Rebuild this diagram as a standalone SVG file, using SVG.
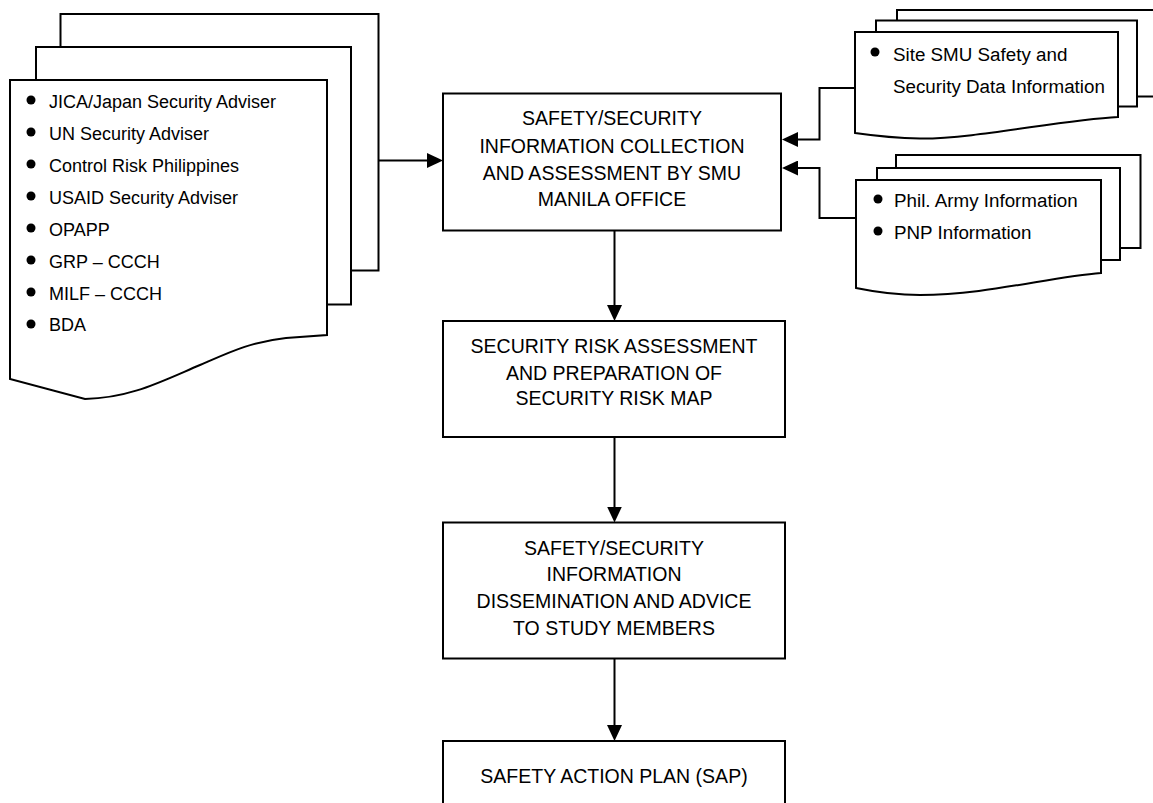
<svg xmlns="http://www.w3.org/2000/svg" width="1153" height="803" viewBox="0 0 1153 803">
<style>
.pg{fill:#fff;stroke:#000;stroke-width:2;stroke-linejoin:miter}
.bx{fill:#fff;stroke:#000;stroke-width:2}
.ln{fill:none;stroke:#000;stroke-width:2}
.lt{font-family:"Liberation Sans",Arial,sans-serif;font-size:18px;fill:#000}
.rt{font-family:"Liberation Sans",Arial,sans-serif;font-size:18.8px;fill:#000}
.bt{font-family:"Liberation Sans",Arial,sans-serif;font-size:19.5px;fill:#000;text-anchor:middle}
.dot{fill:#000}
</style>
<defs>
<marker id="ah" markerWidth="16" markerHeight="15" refX="12" refY="7.5" orient="auto" markerUnits="userSpaceOnUse">
<path d="M0,0 L16,7.5 L0,15 Z" fill="#000"/>
</marker>
</defs>
<rect width="1153" height="803" fill="#fff"/>

<g id="sources-left">
<rect class="pg" x="60.5" y="14" width="318" height="256.5"/>
<rect class="pg" x="36" y="47" width="315" height="257.5"/>
<path class="pg" d="M10,80 H327 V335 L286,338 C250,342 230,352 200,365 C160,382 130,398 85,399 L10,379 Z"/>
<circle class="dot" cx="31" cy="100" r="4.5"/>
<circle class="dot" cx="31" cy="132" r="4.5"/>
<circle class="dot" cx="31" cy="164" r="4.5"/>
<circle class="dot" cx="31" cy="196" r="4.5"/>
<circle class="dot" cx="31" cy="228" r="4.5"/>
<circle class="dot" cx="31" cy="260" r="4.5"/>
<circle class="dot" cx="31" cy="292" r="4.5"/>
<circle class="dot" cx="31" cy="324" r="4.5"/>
<text class="lt" x="49" y="108">JICA/Japan Security Adviser</text>
<text class="lt" x="49" y="140">UN Security Adviser</text>
<text class="lt" x="49" y="172">Control Risk Philippines</text>
<text class="lt" x="49" y="204">USAID Security Adviser</text>
<text class="lt" x="49" y="235.5">OPAPP</text>
<text class="lt" x="49" y="267.5">GRP – CCCH</text>
<text class="lt" x="49" y="299.5">MILF – CCCH</text>
<text class="lt" x="49" y="331">BDA</text>
</g>

<g id="sources-site">
<rect class="pg" x="897" y="10" width="300" height="86.5"/>
<rect class="pg" x="876" y="20.5" width="261" height="86"/>
<path class="pg" d="M855,32 H1118 V117 C1060,120 975,139 920,138.5 Q890,138 855,133 Z"/>
<circle class="dot" cx="875" cy="52" r="4.5"/>
<text class="rt" x="893" y="61">Site SMU Safety and</text>
<text class="rt" x="893" y="92.5">Security Data Information</text>
</g>

<g id="sources-army">
<rect class="pg" x="896" y="155" width="244.5" height="93"/>
<rect class="pg" x="877" y="168" width="243" height="92"/>
<path class="pg" d="M856,180 H1101 V273 C1050,277 985,295 920,295 Q890,295 856,288 Z"/>
<circle class="dot" cx="878" cy="199" r="4.5"/>
<circle class="dot" cx="878" cy="231" r="4.5"/>
<text class="rt" x="894" y="206.5">Phil. Army Information</text>
<text class="rt" x="894" y="238.5">PNP Information</text>
</g>

<g id="collection">
<rect class="bx" x="443" y="93.5" width="338" height="137"/>
<text class="bt" x="612" y="125">SAFETY/SECURITY</text>
<text class="bt" x="612" y="152.5">INFORMATION COLLECTION</text>
<text class="bt" x="612" y="179.5">AND ASSESSMENT BY SMU</text>
<text class="bt" x="612" y="206">MANILA OFFICE</text>
</g>

<g id="risk-assessment">
<rect class="bx" x="443" y="321" width="342" height="116"/>
<text class="bt" x="614" y="353">SECURITY RISK ASSESSMENT</text>
<text class="bt" x="614" y="379.5">AND PREPARATION OF</text>
<text class="bt" x="614" y="405">SECURITY RISK MAP</text>
</g>

<g id="dissemination">
<rect class="bx" x="443" y="522.5" width="342" height="136"/>
<text class="bt" x="614" y="554.5">SAFETY/SECURITY</text>
<text class="bt" x="614" y="581">INFORMATION</text>
<text class="bt" x="614" y="607.5">DISSEMINATION AND ADVICE</text>
<text class="bt" x="614" y="634.5">TO STUDY MEMBERS</text>
</g>

<g id="sap">
<rect class="bx" x="443" y="741" width="342" height="80"/>
<text class="bt" x="614" y="783">SAFETY ACTION PLAN (SAP)</text>
</g>

<g id="connectors">
<path class="ln" d="M378.5,160.5 H439" marker-end="url(#ah)"/>
<path class="ln" d="M855,88 H819.5 V139.5 H786" marker-end="url(#ah)"/>
<path class="ln" d="M856,218 H819.5 V168 H786" marker-end="url(#ah)"/>
<path class="ln" d="M614.5,230.5 V317" marker-end="url(#ah)"/>
<path class="ln" d="M614.5,437 V518.5" marker-end="url(#ah)"/>
<path class="ln" d="M614.5,658.5 V737" marker-end="url(#ah)"/>
</g>
</svg>
